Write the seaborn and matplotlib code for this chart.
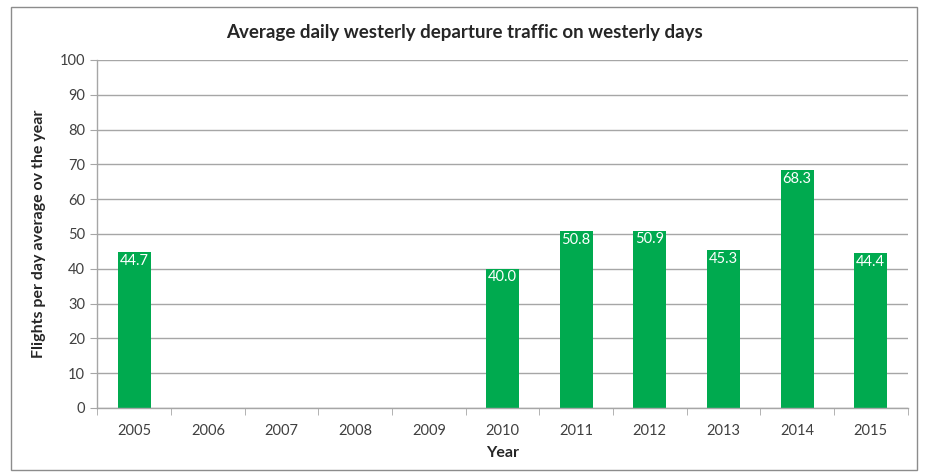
import numpy as np
import pandas as pd
import matplotlib.pyplot as plt
import seaborn as sns
from matplotlib.patches import Rectangle

years = ['2005', '2006', '2007', '2008', '2009', '2010', '2011', '2012', '2013', '2014', '2015']
flights = [44.7, np.nan, np.nan, np.nan, np.nan, 40.0, 50.8, 50.9, 45.3, 68.3, 44.4]

df = pd.DataFrame({'Year': years, 'Flights': flights})

sns.set_style('white')
plt.rcParams['font.family'] = ['Lato', 'DejaVu Sans']

fig = plt.figure(figsize=(9.28, 4.76), dpi=100)
ax = fig.add_axes([0.105, 0.143, 0.873, 0.731])

sns.barplot(data=df, x='Year', y='Flights', order=years, color='#00AA4F',
            saturation=1, width=0.45, linewidth=0, ax=ax)

for i, v in enumerate(flights):
    if not np.isnan(v):
        ax.text(i, v - 2.4, f'{v:.1f}', ha='center', va='center',
                color='white', fontsize=10.5)

ax.set_ylim(0, 100)
ax.set_yticks(range(0, 101, 10))
ax.set_xlim(-0.5, len(years) - 0.5)
ax.yaxis.grid(True, color='#a6a6a6', linewidth=1)
ax.set_axisbelow(True)

for s in ['top', 'right']:
    ax.spines[s].set_visible(False)
for s in ['left', 'bottom']:
    ax.spines[s].set_color('#a6a6a6')
    ax.spines[s].set_linewidth(1)

ax.tick_params(axis='y', left=True, length=5, color='#a6a6a6', labelsize=10.5,
               labelcolor='#404040', pad=4)
ax.tick_params(axis='x', bottom=False, labelsize=10.5, labelcolor='#404040', pad=8)
ax.set_xticks(np.arange(-0.5, len(years), 1), minor=True)
ax.tick_params(axis='x', which='minor', bottom=True, length=5, color='#a6a6a6')

ax.set_xlabel('Year', fontsize=11.5, fontweight='bold', labelpad=6)
ax.set_ylabel('Flights per day average ov the year', fontsize=11.5,
              fontweight='bold', labelpad=10)
fig.suptitle('Average daily westerly departure traffic on westerly days',
             fontsize=13.5, fontweight='bold', y=0.95, x=0.5)

fig.patches.append(Rectangle((0.012, 0.013), 0.976, 0.972, transform=fig.transFigure,
                             fill=False, edgecolor='#8c8c8c', linewidth=1))

fig.savefig('out.png', dpi=100)
